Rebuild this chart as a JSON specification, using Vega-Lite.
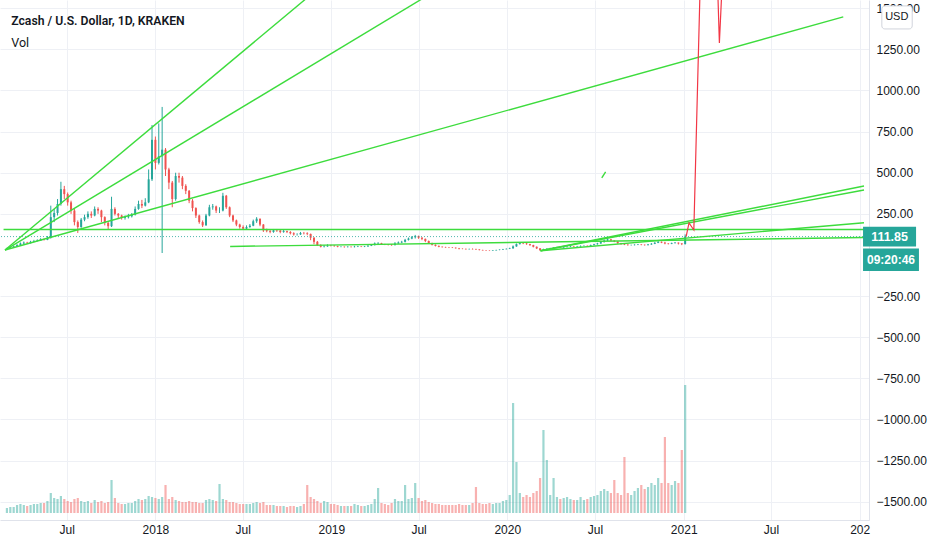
{
"$schema":"https://vega.github.io/schema/vega-lite/v6.json",
"width":869,"height":520,"autosize":"none","padding":{"left":0,"top":0,"right":63,"bottom":30},"background":"#ffffff",
"config":{"view":{"stroke":null},"font":"Liberation Sans"},
"datasets":{
"ohlc":[
{"t":"2017-02-27","o":33,"h":44,"l":30,"c":40,"v":5},
{"t":"2017-03-06","o":40,"h":49,"l":38,"c":45,"v":6},
{"t":"2017-03-13","o":45,"h":56,"l":43,"c":52,"v":6},
{"t":"2017-03-20","o":52,"h":66,"l":50,"c":60,"v":8},
{"t":"2017-03-27","o":60,"h":76,"l":57,"c":70,"v":9},
{"t":"2017-04-03","o":70,"h":82,"l":66,"c":75,"v":8},
{"t":"2017-04-10","o":75,"h":80,"l":68,"c":72,"v":7},
{"t":"2017-04-17","o":72,"h":86,"l":70,"c":80,"v":8},
{"t":"2017-04-24","o":80,"h":92,"l":78,"c":85,"v":9},
{"t":"2017-05-01","o":85,"h":95,"l":82,"c":88,"v":9},
{"t":"2017-05-08","o":88,"h":102,"l":85,"c":95,"v":10},
{"t":"2017-05-15","o":95,"h":100,"l":88,"c":92,"v":10},
{"t":"2017-05-22","o":92,"h":115,"l":90,"c":105,"v":12},
{"t":"2017-05-29","o":105,"h":300,"l":100,"c":230,"v":20},
{"t":"2017-06-05","o":230,"h":280,"l":200,"c":255,"v":15},
{"t":"2017-06-12","o":255,"h":340,"l":240,"c":310,"v":14},
{"t":"2017-06-19","o":310,"h":445,"l":300,"c":400,"v":17},
{"t":"2017-06-26","o":400,"h":420,"l":340,"c":370,"v":14},
{"t":"2017-07-03","o":370,"h":380,"l":300,"c":320,"v":12},
{"t":"2017-07-10","o":320,"h":330,"l":250,"c":270,"v":11},
{"t":"2017-07-17","o":270,"h":280,"l":180,"c":200,"v":14},
{"t":"2017-07-24","o":200,"h":210,"l":134,"c":170,"v":15},
{"t":"2017-07-31","o":170,"h":225,"l":165,"c":215,"v":12},
{"t":"2017-08-07","o":215,"h":245,"l":205,"c":230,"v":11},
{"t":"2017-08-14","o":230,"h":265,"l":220,"c":250,"v":12},
{"t":"2017-08-21","o":250,"h":265,"l":225,"c":240,"v":10},
{"t":"2017-08-28","o":240,"h":295,"l":235,"c":280,"v":13},
{"t":"2017-09-04","o":280,"h":290,"l":250,"c":270,"v":11},
{"t":"2017-09-11","o":270,"h":275,"l":200,"c":230,"v":12},
{"t":"2017-09-18","o":230,"h":235,"l":180,"c":195,"v":10},
{"t":"2017-09-25","o":195,"h":205,"l":152,"c":175,"v":11},
{"t":"2017-10-02","o":175,"h":354,"l":170,"c":280,"v":33},
{"t":"2017-10-09","o":280,"h":290,"l":240,"c":250,"v":15},
{"t":"2017-10-16","o":250,"h":255,"l":225,"c":240,"v":10},
{"t":"2017-10-23","o":240,"h":245,"l":215,"c":225,"v":9},
{"t":"2017-10-30","o":225,"h":240,"l":215,"c":230,"v":9},
{"t":"2017-11-06","o":230,"h":250,"l":222,"c":235,"v":10},
{"t":"2017-11-13","o":235,"h":255,"l":228,"c":245,"v":10},
{"t":"2017-11-20","o":245,"h":295,"l":240,"c":280,"v":12},
{"t":"2017-11-27","o":280,"h":330,"l":275,"c":310,"v":14},
{"t":"2017-12-04","o":310,"h":335,"l":285,"c":300,"v":13},
{"t":"2017-12-11","o":300,"h":345,"l":295,"c":320,"v":14},
{"t":"2017-12-18","o":320,"h":520,"l":315,"c":460,"v":17},
{"t":"2017-12-25","o":460,"h":790,"l":450,"c":700,"v":16},
{"t":"2018-01-01","o":700,"h":720,"l":520,"c":560,"v":15},
{"t":"2018-01-08","o":560,"h":800,"l":550,"c":600,"v":14},
{"t":"2018-01-15","o":600,"h":900,"l":12,"c":640,"v":16},
{"t":"2018-01-22","o":640,"h":650,"l":480,"c":520,"v":28},
{"t":"2018-01-29","o":520,"h":530,"l":400,"c":440,"v":14},
{"t":"2018-02-05","o":440,"h":450,"l":290,"c":340,"v":16},
{"t":"2018-02-12","o":340,"h":500,"l":330,"c":480,"v":13},
{"t":"2018-02-19","o":480,"h":500,"l":440,"c":470,"v":12},
{"t":"2018-02-26","o":470,"h":480,"l":400,"c":420,"v":11},
{"t":"2018-03-05","o":420,"h":430,"l":370,"c":390,"v":11},
{"t":"2018-03-12","o":390,"h":395,"l":315,"c":330,"v":12},
{"t":"2018-03-19","o":330,"h":340,"l":265,"c":285,"v":11},
{"t":"2018-03-26","o":285,"h":290,"l":225,"c":240,"v":11},
{"t":"2018-04-02","o":240,"h":245,"l":190,"c":200,"v":10},
{"t":"2018-04-09","o":200,"h":210,"l":170,"c":180,"v":10},
{"t":"2018-04-16","o":180,"h":250,"l":178,"c":240,"v":13},
{"t":"2018-04-23","o":240,"h":305,"l":235,"c":290,"v":14},
{"t":"2018-04-30","o":290,"h":310,"l":275,"c":295,"v":13},
{"t":"2018-05-07","o":295,"h":300,"l":255,"c":270,"v":12},
{"t":"2018-05-14","o":270,"h":290,"l":255,"c":270,"v":29},
{"t":"2018-05-21","o":270,"h":378,"l":265,"c":360,"v":14},
{"t":"2018-05-28","o":360,"h":365,"l":280,"c":290,"v":13},
{"t":"2018-06-04","o":290,"h":295,"l":230,"c":240,"v":11},
{"t":"2018-06-11","o":240,"h":245,"l":200,"c":210,"v":11},
{"t":"2018-06-18","o":210,"h":215,"l":175,"c":185,"v":10},
{"t":"2018-06-25","o":185,"h":190,"l":160,"c":170,"v":9},
{"t":"2018-07-02","o":170,"h":180,"l":152,"c":160,"v":9},
{"t":"2018-07-09","o":160,"h":180,"l":155,"c":170,"v":9},
{"t":"2018-07-16","o":170,"h":188,"l":165,"c":178,"v":9},
{"t":"2018-07-23","o":178,"h":215,"l":175,"c":205,"v":10},
{"t":"2018-07-30","o":205,"h":230,"l":195,"c":220,"v":11},
{"t":"2018-08-06","o":220,"h":222,"l":175,"c":185,"v":10},
{"t":"2018-08-13","o":185,"h":188,"l":140,"c":150,"v":11},
{"t":"2018-08-20","o":150,"h":160,"l":138,"c":145,"v":8},
{"t":"2018-08-27","o":145,"h":152,"l":132,"c":140,"v":8},
{"t":"2018-09-03","o":140,"h":158,"l":135,"c":150,"v":8},
{"t":"2018-09-10","o":150,"h":158,"l":140,"c":148,"v":7},
{"t":"2018-09-17","o":148,"h":152,"l":132,"c":140,"v":7},
{"t":"2018-09-24","o":140,"h":152,"l":135,"c":145,"v":7},
{"t":"2018-10-01","o":145,"h":148,"l":133,"c":140,"v":6},
{"t":"2018-10-08","o":140,"h":145,"l":125,"c":132,"v":7},
{"t":"2018-10-15","o":132,"h":138,"l":118,"c":125,"v":7},
{"t":"2018-10-22","o":125,"h":132,"l":118,"c":125,"v":6},
{"t":"2018-10-29","o":125,"h":140,"l":122,"c":133,"v":7},
{"t":"2018-11-05","o":133,"h":140,"l":125,"c":132,"v":9},
{"t":"2018-11-12","o":132,"h":138,"l":120,"c":128,"v":28},
{"t":"2018-11-19","o":128,"h":130,"l":90,"c":105,"v":16},
{"t":"2018-11-26","o":105,"h":108,"l":65,"c":80,"v":14},
{"t":"2018-12-03","o":80,"h":85,"l":55,"c":60,"v":12},
{"t":"2018-12-10","o":60,"h":65,"l":46,"c":50,"v":10},
{"t":"2018-12-17","o":50,"h":60,"l":46,"c":52,"v":12},
{"t":"2018-12-24","o":52,"h":65,"l":50,"c":57,"v":11},
{"t":"2018-12-31","o":57,"h":62,"l":52,"c":56,"v":9},
{"t":"2019-01-07","o":56,"h":60,"l":50,"c":54,"v":9},
{"t":"2019-01-14","o":54,"h":56,"l":47,"c":50,"v":8},
{"t":"2019-01-21","o":50,"h":54,"l":47,"c":50,"v":7},
{"t":"2019-01-28","o":50,"h":52,"l":45,"c":48,"v":7},
{"t":"2019-02-04","o":48,"h":53,"l":46,"c":50,"v":7},
{"t":"2019-02-11","o":50,"h":52,"l":46,"c":48,"v":7},
{"t":"2019-02-18","o":48,"h":56,"l":46,"c":50,"v":9},
{"t":"2019-02-25","o":50,"h":56,"l":48,"c":52,"v":8},
{"t":"2019-03-04","o":52,"h":54,"l":48,"c":50,"v":7},
{"t":"2019-03-11","o":50,"h":55,"l":48,"c":52,"v":7},
{"t":"2019-03-18","o":52,"h":60,"l":50,"c":56,"v":8},
{"t":"2019-03-25","o":56,"h":64,"l":54,"c":60,"v":9},
{"t":"2019-04-01","o":60,"h":76,"l":58,"c":70,"v":14},
{"t":"2019-04-08","o":70,"h":78,"l":66,"c":72,"v":25},
{"t":"2019-04-15","o":72,"h":74,"l":62,"c":65,"v":10},
{"t":"2019-04-22","o":65,"h":68,"l":60,"c":64,"v":9},
{"t":"2019-04-29","o":64,"h":66,"l":58,"c":62,"v":8},
{"t":"2019-05-06","o":62,"h":66,"l":56,"c":60,"v":10},
{"t":"2019-05-13","o":60,"h":78,"l":58,"c":70,"v":14},
{"t":"2019-05-20","o":70,"h":82,"l":68,"c":76,"v":12},
{"t":"2019-05-27","o":76,"h":86,"l":72,"c":80,"v":12},
{"t":"2019-06-03","o":80,"h":98,"l":76,"c":92,"v":28},
{"t":"2019-06-10","o":92,"h":106,"l":88,"c":100,"v":14},
{"t":"2019-06-17","o":100,"h":115,"l":96,"c":108,"v":15},
{"t":"2019-06-24","o":108,"h":122,"l":100,"c":115,"v":30},
{"t":"2019-07-01","o":115,"h":118,"l":98,"c":105,"v":15},
{"t":"2019-07-08","o":105,"h":108,"l":90,"c":98,"v":12},
{"t":"2019-07-15","o":98,"h":100,"l":78,"c":85,"v":13},
{"t":"2019-07-22","o":85,"h":88,"l":68,"c":72,"v":11},
{"t":"2019-07-29","o":72,"h":75,"l":58,"c":62,"v":10},
{"t":"2019-08-05","o":62,"h":64,"l":52,"c":55,"v":9},
{"t":"2019-08-12","o":55,"h":58,"l":47,"c":50,"v":9},
{"t":"2019-08-19","o":50,"h":52,"l":45,"c":48,"v":8},
{"t":"2019-08-26","o":48,"h":50,"l":44,"c":46,"v":8},
{"t":"2019-09-02","o":46,"h":48,"l":42,"c":45,"v":8},
{"t":"2019-09-09","o":45,"h":48,"l":42,"c":44,"v":8},
{"t":"2019-09-16","o":44,"h":46,"l":39,"c":41,"v":8},
{"t":"2019-09-23","o":41,"h":43,"l":34,"c":38,"v":9},
{"t":"2019-09-30","o":38,"h":40,"l":35,"c":37,"v":8},
{"t":"2019-10-07","o":37,"h":39,"l":33,"c":35,"v":8},
{"t":"2019-10-14","o":35,"h":39,"l":33,"c":36,"v":8},
{"t":"2019-10-21","o":36,"h":40,"l":33,"c":35,"v":10},
{"t":"2019-10-28","o":35,"h":38,"l":31,"c":33,"v":26},
{"t":"2019-11-04","o":33,"h":35,"l":28,"c":30,"v":10},
{"t":"2019-11-11","o":30,"h":32,"l":27,"c":28,"v":9},
{"t":"2019-11-18","o":28,"h":30,"l":25,"c":27,"v":9},
{"t":"2019-11-25","o":27,"h":28,"l":24,"c":26,"v":10},
{"t":"2019-12-02","o":26,"h":30,"l":25,"c":28,"v":9},
{"t":"2019-12-09","o":28,"h":32,"l":27,"c":30,"v":10},
{"t":"2019-12-16","o":30,"h":34,"l":29,"c":32,"v":10},
{"t":"2019-12-23","o":32,"h":37,"l":31,"c":35,"v":12},
{"t":"2019-12-30","o":35,"h":40,"l":34,"c":37,"v":13},
{"t":"2020-01-06","o":37,"h":44,"l":36,"c":40,"v":18},
{"t":"2020-01-13","o":40,"h":58,"l":39,"c":52,"v":110},
{"t":"2020-01-20","o":52,"h":70,"l":50,"c":66,"v":51},
{"t":"2020-01-27","o":66,"h":78,"l":64,"c":72,"v":20},
{"t":"2020-02-03","o":72,"h":76,"l":66,"c":70,"v":16},
{"t":"2020-02-10","o":70,"h":74,"l":62,"c":66,"v":18},
{"t":"2020-02-17","o":66,"h":68,"l":56,"c":60,"v":16},
{"t":"2020-02-24","o":60,"h":62,"l":46,"c":50,"v":20},
{"t":"2020-03-02","o":50,"h":52,"l":36,"c":40,"v":22},
{"t":"2020-03-09","o":40,"h":42,"l":24,"c":30,"v":35},
{"t":"2020-03-16","o":30,"h":38,"l":26,"c":34,"v":83},
{"t":"2020-03-23","o":34,"h":40,"l":32,"c":38,"v":53},
{"t":"2020-03-30","o":38,"h":44,"l":36,"c":41,"v":18},
{"t":"2020-04-06","o":41,"h":47,"l":39,"c":44,"v":35},
{"t":"2020-04-13","o":44,"h":50,"l":42,"c":47,"v":16},
{"t":"2020-04-20","o":47,"h":49,"l":43,"c":45,"v":14},
{"t":"2020-04-27","o":45,"h":51,"l":44,"c":48,"v":15},
{"t":"2020-05-04","o":48,"h":54,"l":46,"c":50,"v":16},
{"t":"2020-05-11","o":50,"h":56,"l":48,"c":52,"v":14},
{"t":"2020-05-18","o":52,"h":54,"l":48,"c":50,"v":13},
{"t":"2020-05-25","o":50,"h":55,"l":49,"c":52,"v":13},
{"t":"2020-06-01","o":52,"h":58,"l":50,"c":55,"v":16},
{"t":"2020-06-08","o":55,"h":58,"l":53,"c":56,"v":13},
{"t":"2020-06-15","o":56,"h":58,"l":52,"c":55,"v":14},
{"t":"2020-06-22","o":55,"h":63,"l":54,"c":60,"v":16},
{"t":"2020-06-29","o":60,"h":68,"l":58,"c":65,"v":17},
{"t":"2020-07-06","o":65,"h":74,"l":63,"c":70,"v":18},
{"t":"2020-07-13","o":70,"h":82,"l":68,"c":78,"v":22},
{"t":"2020-07-20","o":78,"h":94,"l":76,"c":88,"v":24},
{"t":"2020-07-27","o":88,"h":102,"l":85,"c":95,"v":22},
{"t":"2020-08-03","o":95,"h":97,"l":84,"c":88,"v":20},
{"t":"2020-08-10","o":88,"h":90,"l":78,"c":82,"v":33},
{"t":"2020-08-17","o":82,"h":84,"l":68,"c":72,"v":20},
{"t":"2020-08-24","o":72,"h":74,"l":63,"c":66,"v":18},
{"t":"2020-08-31","o":66,"h":70,"l":60,"c":63,"v":56},
{"t":"2020-09-07","o":63,"h":65,"l":57,"c":60,"v":20},
{"t":"2020-09-14","o":60,"h":63,"l":57,"c":60,"v":18},
{"t":"2020-09-21","o":60,"h":65,"l":58,"c":62,"v":22},
{"t":"2020-09-28","o":62,"h":67,"l":60,"c":64,"v":25},
{"t":"2020-10-05","o":64,"h":66,"l":59,"c":62,"v":28},
{"t":"2020-10-12","o":62,"h":64,"l":57,"c":60,"v":24},
{"t":"2020-10-19","o":60,"h":67,"l":58,"c":64,"v":26},
{"t":"2020-10-26","o":64,"h":72,"l":62,"c":68,"v":30},
{"t":"2020-11-02","o":68,"h":78,"l":66,"c":74,"v":28},
{"t":"2020-11-09","o":74,"h":84,"l":72,"c":80,"v":35},
{"t":"2020-11-16","o":80,"h":82,"l":72,"c":75,"v":30},
{"t":"2020-11-23","o":75,"h":80,"l":65,"c":70,"v":76},
{"t":"2020-11-30","o":70,"h":72,"l":64,"c":68,"v":30},
{"t":"2020-12-07","o":68,"h":75,"l":66,"c":72,"v":28},
{"t":"2020-12-14","o":72,"h":78,"l":70,"c":75,"v":32},
{"t":"2020-12-21","o":75,"h":76,"l":64,"c":70,"v":30},
{"t":"2020-12-28","o":70,"h":72,"l":60,"c":66,"v":63},
{"t":"2021-01-04","o":66,"h":125,"l":64,"c":111.85,"v":128}
],
"trend":[
{"t1":"2017-02-23","p1":30,"t2":"2018-12-11","p2":1635},
{"t1":"2017-02-23","p1":30,"t2":"2019-08-14","p2":1622},
{"t1":"2017-02-23","p1":30,"t2":"2021-11-28","p2":1447},
{"t1":"2017-02-20","p1":155,"t2":"2022-01-10","p2":155},
{"t1":"2018-06-05","p1":52,"t2":"2022-01-10","p2":106},
{"t1":"2020-03-10","p1":26,"t2":"2022-01-10","p2":419},
{"t1":"2020-03-10","p1":26,"t2":"2022-01-10","p2":395},
{"t1":"2020-03-10","p1":26,"t2":"2022-01-10","p2":196},
{"t1":"2020-07-15","p1":468,"t2":"2020-07-23","p2":505}
],
"proj":[
{"t":"2021-01-06","p":111.85},
{"t":"2021-01-12","p":195},
{"t":"2021-01-22","p":152},
{"t":"2021-02-06","p":1854},
{"t":"2021-03-10","p":1854},
{"t":"2021-03-16","p":1289},
{"t":"2021-03-25","p":1854}
]
},
"layer":[
{"data":{"name":"ohlc"},
 "mark":{"type":"bar","size":2.2,"opacity":0.45},
 "encoding":{
  "x":{"field":"t","type":"temporal","title":null,
   "scale":{"domain":[{"year":2017,"month":2,"date":23},{"year":2022,"month":1,"date":10}],"nice":false},
   "axis":{"values":[{"year":2017,"month":7,"date":1},{"year":2018,"month":1,"date":1},{"year":2018,"month":7,"date":1},{"year":2019,"month":1,"date":1},{"year":2019,"month":7,"date":1},{"year":2020,"month":1,"date":1},{"year":2020,"month":7,"date":1},{"year":2021,"month":1,"date":1},{"year":2021,"month":7,"date":1},{"year":2022,"month":1,"date":1}],
    "labelExpr":"month(datum.value) == 0 ? (year(datum.value) == 2022 ? '202' : timeFormat(datum.value, '%Y')) : 'Jul'",
    "ticks":false,"labelPadding":4,"labelFontSize":12,"labelColor":"#131722","labelFont":"Liberation Sans",
    "grid":true,"gridColor":"#eef0f5","domainColor":"#e0e3eb","labelFlush":false,"labelOverlap":false,"title":null}},
  "y":{"field":"v","type":"quantitative","scale":{"domain":[-7,513],"nice":false,"zero":false},"axis":null},
  "y2":{"datum":0},
  "color":{"condition":{"test":"datum.c >= datum.o","value":"#26a69a"},"value":"#ef5350"}
 }},
{"layer":[
 {"data":{"name":"ohlc"},
  "mark":{"type":"rule","strokeWidth":1},
  "encoding":{
   "x":{"field":"t","type":"temporal"},
   "y":{"field":"l","type":"quantitative","scale":{"domain":[-1611,1550],"nice":false,"zero":false},
    "axis":{"orient":"right","values":[-1500,-1250,-1000,-750,-500,-250,250,500,750,1000,1250,1500],"format":".2f",
     "ticks":false,"labelPadding":7,"labelFontSize":12,"labelColor":"#131722","labelFont":"Liberation Sans",
     "grid":true,"gridColor":"#eef0f5","domainColor":"#e0e3eb","title":null,"labelOverlap":false,"labelFlush":false}},
   "y2":{"field":"h"},
   "color":{"condition":{"test":"datum.c >= datum.o","value":"#26a69a"},"value":"#ef5350"}
  }},
 {"data":{"name":"ohlc"},
  "mark":{"type":"bar","size":2},
  "encoding":{
   "x":{"field":"t","type":"temporal"},
   "y":{"field":"o","type":"quantitative"},
   "y2":{"field":"c"},
   "color":{"condition":{"test":"datum.c >= datum.o","value":"#26a69a"},"value":"#ef5350"}
  }},
 {"data":{"values":[{}]},
  "mark":{"type":"rule","strokeDash":[1,2],"color":"#26a69a","opacity":0.8,"strokeWidth":1},
  "encoding":{"y":{"datum":111.85,"type":"quantitative"}}},
 {"data":{"name":"trend"},
  "mark":{"type":"rule","color":"#3ddc3d","strokeWidth":1.4,"clip":true},
  "encoding":{
   "x":{"field":"t1","type":"temporal"},
   "x2":{"field":"t2"},
   "y":{"field":"p1","type":"quantitative"},
   "y2":{"field":"p2"}
  }},
 {"data":{"name":"proj"},
  "mark":{"type":"line","color":"#f23645","strokeWidth":1.2,"clip":true},
  "encoding":{
   "x":{"field":"t","type":"temporal"},
   "y":{"field":"p","type":"quantitative"}
  }},
 {"data":{"values":[{}]},
  "mark":{"type":"rect","color":"#26a69a"},
  "encoding":{
   "x":{"datum":{"year":2022,"month":1,"date":8},"type":"temporal"},
   "x2":{"datum":{"year":2022,"month":4,"date":28}},
   "y":{"datum":172,"type":"quantitative"},
   "y2":{"datum":52}
  }},
 {"data":{"values":[{}]},
  "mark":{"type":"text","text":"111.85","color":"#ffffff","fontSize":12.5,"fontWeight":"bold","align":"center","baseline":"middle","font":"Liberation Sans"},
  "encoding":{
   "x":{"datum":{"year":2022,"month":3,"date":4},"type":"temporal"},
   "y":{"datum":111.85,"type":"quantitative"}
  }},
 {"data":{"values":[{}]},
  "mark":{"type":"rect","color":"#26a69a"},
  "encoding":{
   "x":{"datum":{"year":2022,"month":1,"date":8},"type":"temporal"},
   "x2":{"datum":{"year":2022,"month":5,"date":4}},
   "y":{"datum":40,"type":"quantitative"},
   "y2":{"datum":-98}
  }},
 {"data":{"values":[{}]},
  "mark":{"type":"text","text":"09:20:46","color":"#ffffff","fontSize":12,"fontWeight":"bold","align":"center","baseline":"middle","font":"Liberation Sans"},
  "encoding":{
   "x":{"datum":{"year":2022,"month":3,"date":7},"type":"temporal"},
   "y":{"datum":-29,"type":"quantitative"}
  }},
 {"data":{"values":[{}]},
  "mark":{"type":"rect","fill":"#ffffff","stroke":"#d1d4dc","strokeWidth":1,"cornerRadius":3},
  "encoding":{
   "x":{"datum":{"year":2022,"month":2,"date":16},"type":"temporal"},
   "x2":{"datum":{"year":2022,"month":4,"date":20}},
   "y":{"datum":1514,"type":"quantitative"},
   "y2":{"datum":1374}
  }},
 {"data":{"values":[{}]},
  "mark":{"type":"text","text":"USD","color":"#131722","fontSize":11,"align":"center","baseline":"middle","font":"Liberation Sans"},
  "encoding":{
   "x":{"datum":{"year":2022,"month":3,"date":19},"type":"temporal"},
   "y":{"datum":1444,"type":"quantitative"}
  }},
 {"data":{"values":[{}]},
  "mark":{"type":"text","text":"Zcash / U.S. Dollar, 1D, KRAKEN","color":"#131722","fontSize":12.2,"fontWeight":600,"align":"left","baseline":"middle","font":"Roboto"},
  "encoding":{
   "x":{"datum":{"year":2017,"month":3,"date":8},"type":"temporal"},
   "y":{"datum":1420,"type":"quantitative"}
  }},
 {"data":{"values":[{}]},
  "mark":{"type":"text","text":"Vol","color":"#131722","fontSize":12.5,"align":"left","baseline":"middle","font":"Roboto"},
  "encoding":{
   "x":{"datum":{"year":2017,"month":3,"date":8},"type":"temporal"},
   "y":{"datum":1289,"type":"quantitative"}
  }}
]}
],
"resolve":{"scale":{"y":"independent"},"axis":{"y":"independent"}}
}
